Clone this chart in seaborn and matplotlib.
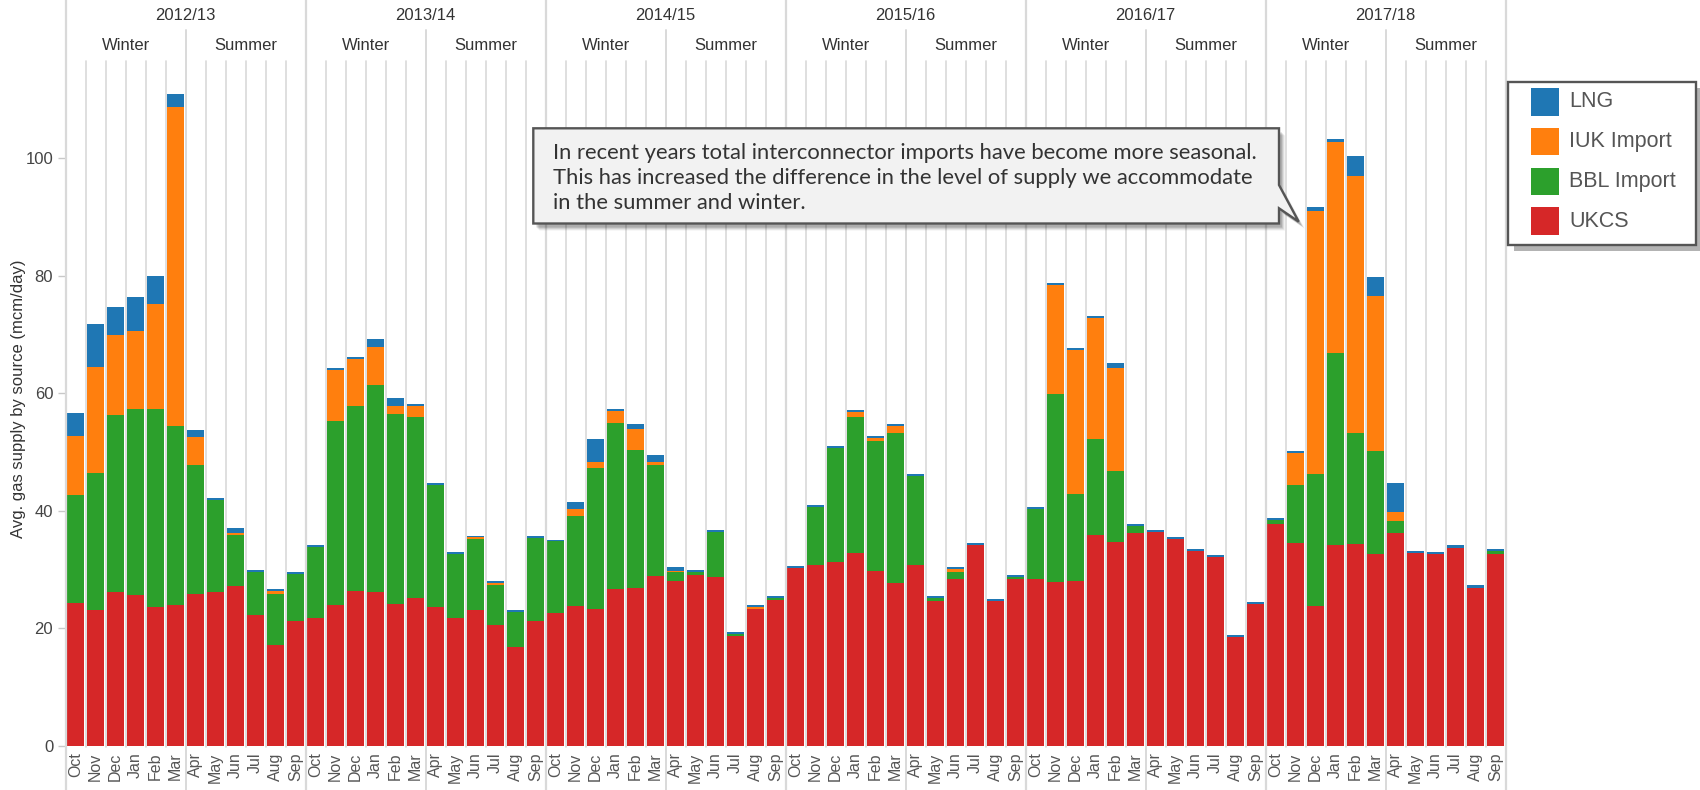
import numpy as np
import pandas as pd
import matplotlib
matplotlib.use("Agg")
import matplotlib.pyplot as plt
import matplotlib.transforms as mtrans
from matplotlib.patches import Rectangle, Polygon
from matplotlib.lines import Line2D
import seaborn as sns

# ---------------- data ----------------
years = ["2012/13", "2013/14", "2014/15", "2015/16", "2016/17", "2017/18"]
seasons = ["Winter", "Summer"]
months = ["Oct", "Nov", "Dec", "Jan", "Feb", "Mar",
          "Apr", "May", "Jun", "Jul", "Aug", "Sep"]

ukcs = [24.3, 23.2, 26.2, 25.7, 23.6, 24.0, 25.9, 26.2, 27.2, 22.2, 17.2, 21.3,
        21.8, 23.9, 26.4, 26.2, 24.2, 25.2, 23.6, 21.8, 23.2, 20.6, 16.8, 21.3,
        22.6, 23.8, 23.3, 26.7, 26.9, 28.9, 28.1, 29.1, 28.7, 18.7, 23.3, 24.8,
        30.3, 30.8, 31.3, 32.8, 29.8, 27.7, 30.8, 24.7, 28.4, 34.2, 24.7, 28.4,
        28.4, 27.9, 28.1, 35.9, 34.7, 36.2, 36.4, 35.2, 33.2, 32.1, 18.5, 24.1,
        37.8, 34.5, 23.8, 34.2, 34.4, 32.7, 36.2, 32.8, 32.7, 33.7, 26.9, 32.7]
bbl = [18.4, 23.2, 30.1, 31.6, 33.7, 30.4, 21.9, 15.7, 8.7, 7.4, 8.7, 8.0,
       12.0, 31.4, 31.5, 35.2, 32.3, 30.8, 20.8, 10.9, 12.0, 6.8, 6.0, 14.1,
       12.2, 15.3, 24.0, 28.2, 23.4, 18.9, 1.5, 0.5, 7.7, 0.3, 0.0, 0.4,
       0.0, 9.8, 19.4, 23.2, 22.1, 25.5, 15.1, 0.5, 1.2, 0.0, 0.0, 0.3,
       11.9, 32.0, 14.8, 16.3, 12.1, 1.2, 0.0, 0.0, 0.0, 0.0, 0.0, 0.0,
       0.6, 9.9, 22.5, 32.6, 18.8, 17.5, 2.1, 0.0, 0.0, 0.0, 0.0, 0.5]
iuk = [10.0, 18.1, 13.6, 13.3, 17.9, 54.3, 4.8, 0.0, 0.3, 0.0, 0.5, 0.0,
       0.0, 8.6, 7.9, 6.5, 1.4, 1.9, 0.0, 0.0, 0.3, 0.4, 0.0, 0.0,
       0.0, 1.2, 1.0, 2.1, 3.6, 0.5, 0.2, 0.0, 0.0, 0.0, 0.3, 0.0,
       0.0, 0.0, 0.0, 0.8, 0.5, 1.2, 0.0, 0.0, 0.5, 0.0, 0.0, 0.0,
       0.0, 18.5, 24.4, 20.6, 17.5, 0.0, 0.0, 0.0, 0.0, 0.0, 0.0, 0.0,
       0.0, 5.4, 44.7, 35.9, 43.7, 26.3, 1.5, 0.0, 0.0, 0.0, 0.0, 0.0]
lng = [3.9, 7.3, 4.8, 5.8, 4.7, 2.2, 1.1, 0.3, 0.9, 0.3, 0.3, 0.3,
       0.4, 0.4, 0.4, 1.3, 1.3, 0.3, 0.3, 0.3, 0.3, 0.3, 0.3, 0.4,
       0.3, 1.2, 3.9, 0.3, 0.9, 1.2, 0.6, 0.3, 0.3, 0.4, 0.4, 0.3,
       0.3, 0.4, 0.3, 0.3, 0.3, 0.4, 0.4, 0.3, 0.3, 0.3, 0.3, 0.4,
       0.3, 0.3, 0.4, 0.3, 0.8, 0.4, 0.3, 0.3, 0.3, 0.4, 0.4, 0.4,
       0.4, 0.4, 0.7, 0.5, 3.4, 3.3, 4.9, 0.4, 0.3, 0.4, 0.4, 0.3]

series = ["LNG", "IUK Import", "BBL Import", "UKCS"]
colors = {"LNG": "#1f77b4", "IUK Import": "#ff7f0e",
          "BBL Import": "#2ca02c", "UKCS": "#d62728"}
yticks = [0, 20, 40, 60, 80, 100]
ylabel = "Avg. gas supply by source (mcm/day)"
note_lines = ["In recent years total interconnector imports have become more seasonal.",
              "This has increased the difference in the level of supply we accommodate",
              "in the summer and winter."]

# ---------------- style ----------------
sns.set_style("white")
plt.rcParams["font.family"] = ["Liberation Sans", "DejaVu Sans"]

W, H = 1700, 790
fig = plt.figure(figsize=(W / 100, H / 100), dpi=100)


def fx(px):
    return px / W


def fy(py):
    return 1 - py / H


X0, X1 = 65.7, 1505.7
YTOP, YBOT = 61.0, 747.0
ax = fig.add_axes([fx(X0), fy(YBOT), (X1 - X0) / W, (YBOT - YTOP) / H])

n = len(ukcs)
df = pd.DataFrame({"idx": np.arange(n), "UKCS": ukcs, "BBL Import": bbl,
                   "IUK Import": iuk, "LNG": lng})
df["top_UKCS"] = df["UKCS"]
df["top_BBL Import"] = df["top_UKCS"] + df["BBL Import"]
df["top_IUK Import"] = df["top_BBL Import"] + df["IUK Import"]
df["top_LNG"] = df["top_IUK Import"] + df["LNG"]

for s in series:  # tallest first, stacked look by overdraw
    sns.barplot(data=df, x="idx", y="top_" + s, color=colors[s], saturation=1,
                width=0.83, errorbar=None, linewidth=0, ax=ax)

ax.set_xlim(-0.5, n - 0.5)
ax.set_ylim(-0.17, 116.5)
ax.set_xlabel("")
ax.set_ylabel("")
for sp in ax.spines.values():
    sp.set_visible(False)

ax.set_yticks(yticks)
ax.set_yticklabels([str(v) for v in yticks])
ax.tick_params(axis="y", length=6, width=1, color="#c8c8c8", labelcolor="#444444",
               labelsize=12, pad=3, left=True)
month_labels = [months[i % 12] for i in range(n)]
ax.set_xticks(np.arange(n))
ax.set_xticklabels(month_labels, rotation=90)
ax.tick_params(axis="x", length=0, labelcolor="#555555", labelsize=11.5, pad=4)

# separator lines (data x, figure y)
tr = mtrans.blended_transform_factory(ax.transData, fig.transFigure)
sep_col = "#d9d9d9"
for i in range(0, n + 1):
    x = i - 0.5
    if i % 12 == 0:
        y0, y1, lw = 0, 1, 1.6
    elif i % 6 == 0:
        y0, y1, lw = 0, fy(30), 1.4
    else:
        y0, y1, lw = fy(YBOT), fy(YTOP), 1.2
    fig.add_artist(Line2D([x, x], [y0, y1], transform=tr, color=sep_col, lw=lw, zorder=0.5))

# header labels
for k, yr in enumerate(years):
    fig.text(12 * k + 5.5, fy(15), yr, transform=tr, ha="center", va="center",
             fontsize=12, color="#333333")
    for j, ss in enumerate(seasons):
        fig.text(12 * k + 6 * j + 2.5, fy(45.5), ss, transform=tr, ha="center",
                 va="center", fontsize=12, color="#333333")

fig.text(fx(19), fy(399), ylabel, rotation=90, ha="center", va="center",
         fontsize=12, color="#333333")

# ---------------- annotation callout ----------------
def P(pts, dx=0, dy=0):
    return [(fx(x + dx), fy(y + dy)) for x, y in pts]


call = [(533.3, 128.3), (1279, 128.3), (1279, 185), (1298.7, 221.7),
        (1279, 208.3), (1279, 223.5), (533.3, 223.5)]
for k, a in enumerate([0.06, 0.08, 0.10, 0.12]):
    d = 7 - k
    fig.add_artist(Polygon(P(call, d - 1, d), closed=True, transform=fig.transFigure,
                           facecolor="#000000", edgecolor="none", alpha=a, zorder=5))
fig.add_artist(Polygon(P(call), closed=True, transform=fig.transFigure,
                       facecolor="#f2f2f2", edgecolor="#555555", lw=1.7, zorder=6))
for li, line in enumerate(note_lines):
    fig.text(fx(553.3), fy(159.3 + 25 * li), line, ha="left", va="baseline",
             fontsize=15.8, color="#333333", family=["Lato", "DejaVu Sans"], zorder=7)

# ---------------- legend ----------------
lx0, ly0, lx1, ly1 = 1508, 82.3, 1695.6, 245
fig.add_artist(Rectangle((fx(lx0 + 6), fy(ly1 + 6)), (lx1 - lx0) / W, (ly1 - ly0) / H,
                         transform=fig.transFigure, facecolor="#b3b3b3",
                         edgecolor="none", zorder=5))
fig.add_artist(Rectangle((fx(lx0), fy(ly1)), (lx1 - lx0) / W, (ly1 - ly0) / H,
                         transform=fig.transFigure, facecolor="white",
                         edgecolor="#555555", lw=1.7, zorder=6))
for j, s in enumerate(series):
    cy = 101.7 + 39.8 * j
    fig.add_artist(Rectangle((fx(1531), fy(cy + 13.8)), 27.6 / W, 27.6 / H,
                             transform=fig.transFigure, facecolor=colors[s],
                             edgecolor="none", zorder=7))
    fig.text(fx(1569), fy(cy), s, ha="left", va="center", fontsize=15.5,
             color="#555555", zorder=7)

fig.savefig("out.png", dpi=100)
